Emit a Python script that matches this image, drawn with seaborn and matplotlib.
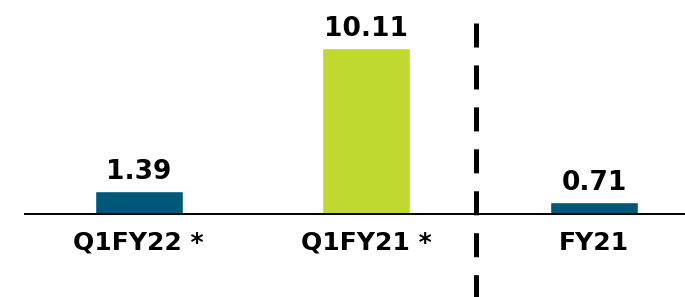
import matplotlib
matplotlib.use("Agg")
import matplotlib.pyplot as plt
import seaborn as sns
import pandas as pd
import matplotlib.transforms as mtrans

categories = ["Q1FY22 *", "Q1FY21 *", "FY21"]
values = [1.39, 10.11, 0.71]
value_labels = ["1.39", "10.11", "0.71"]
colors = ["#005878", "#C1D830", "#005878"]

sns.set_style("white")
plt.rcParams["font.family"] = ["DejaVu Sans"]
plt.rcParams["lines.scale_dashes"] = False
plt.rcParams["text.color"] = "black"
plt.rcParams["xtick.color"] = "black"

fig = plt.figure(figsize=(6.85, 2.97), dpi=100)
ax = fig.add_axes([25 / 685, 83 / 297, 660 / 685, 214 / 297])

df = pd.DataFrame({"cat": categories, "val": values})
sns.barplot(data=df, x="cat", y="val", hue="cat", palette=colors,
            width=0.387, legend=False, ax=ax, saturation=1)

ax.set_xlim(-0.5, 2.40)
ax.set_ylim(0, 13.03)
ax.set_xlabel("")
ax.set_ylabel("")
ax.set_yticks([])
for s in ["top", "left", "right"]:
    ax.spines[s].set_visible(False)
ax.spines["bottom"].set_color("black")
ax.spines["bottom"].set_linewidth(1.4)
ax.tick_params(axis="x", length=0, pad=12, labelsize=18, labelcolor="black")
for t in ax.get_xticklabels():
    t.set_fontweight("bold")
    t.set_color("black")

for i, (v, lab) in enumerate(zip(values, value_labels)):
    ax.annotate(lab, (i, v), xytext=(0, 8.6), textcoords="offset points",
                ha="center", va="baseline", fontsize=19, fontweight="bold",
                color="black")

# dashed separator
tr = mtrans.blended_transform_factory(ax.transData, ax.transAxes)
ax.plot([1.482, 1.482], [0.8925, -0.388], transform=tr, color="black",
        linewidth=3.6, dashes=(17.3, 12.9), clip_on=False,
        dash_capstyle="butt")

fig.savefig("out.png", dpi=100)
